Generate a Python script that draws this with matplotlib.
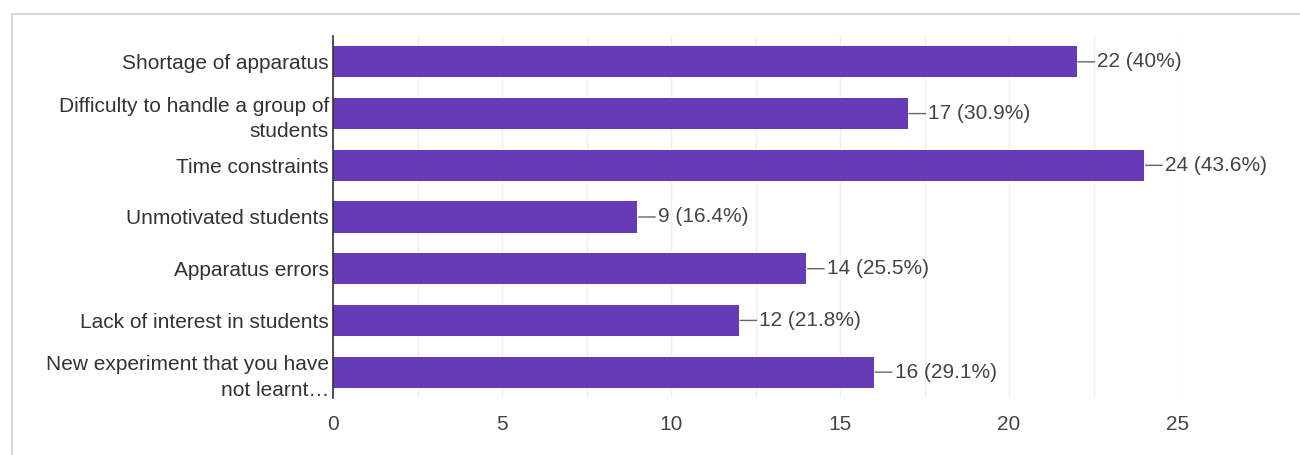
import numpy as np
import matplotlib.pyplot as plt
from matplotlib.patches import Rectangle

# survey answers (55 respondents)
categories = ["Shortage of apparatus",
              "Difficulty to handle a group of\nstudents",
              "Time constraints",
              "Unmotivated students",
              "Apparatus errors",
              "Lack of interest in students",
              "New experiment that you have\nnot learnt\u2026"]
counts = [22, 17, 24, 9, 14, 12, 16]
percents = ["40%", "30.9%", "43.6%", "16.4%", "25.5%", "21.8%", "29.1%"]

plt.rcParams['font.family'] = ['Liberation Sans', 'DejaVu Sans']

fig = plt.figure(figsize=(13, 4.55), dpi=100)
# card frame
fig.patches.append(Rectangle((12 / 1300, -0.01), 1.2, 1 - 14 / 455 + 0.01, transform=fig.transFigure,
                             facecolor='none', edgecolor='#cfcfcf', lw=1.2, zorder=-1))
ax = fig.add_axes([333 / 1300, 1 - 398 / 455, 845 / 1300, 362 / 455])

y = np.arange(len(categories))
ax.barh(y, counts, height=0.6, color='#673ab7', zorder=3)

for i, (c, p) in enumerate(zip(counts, percents)):
    ax.annotate(f"{c} ({p})", xy=(c, i), xytext=(15, 0), textcoords='offset points',
                va='center', ha='left', fontsize=15, color='#444444',
                arrowprops=dict(arrowstyle='-', color='#666666', lw=1, shrinkA=0, shrinkB=1))

ax.set_xlim(0, 25)
ax.set_ylim(len(categories) - 0.5, -0.5)
ax.set_yticks(y, categories, fontsize=15, color='#333333')
for lbl in ax.get_yticklabels():
    lbl.set_linespacing(1.45)
ax.set_xticks(np.arange(0, 26, 5))
ax.set_xticks(np.arange(0, 26, 2.5), minor=True)
ax.tick_params(axis='x', labelsize=15, labelcolor='#444444', length=0, pad=12)
ax.tick_params(axis='x', which='minor', length=0)
ax.tick_params(axis='y', length=0, pad=3)
ax.grid(axis='x', which='both', color='#f0f0f0', lw=1, zorder=0)
for s in ['top', 'right', 'bottom']:
    ax.spines[s].set_visible(False)
ax.spines['left'].set_color('#333333')
ax.spines['left'].set_linewidth(1.2)
ax.spines['left'].set_zorder(4)
ax.set_facecolor('none')

fig.savefig("out.png", dpi=100)
